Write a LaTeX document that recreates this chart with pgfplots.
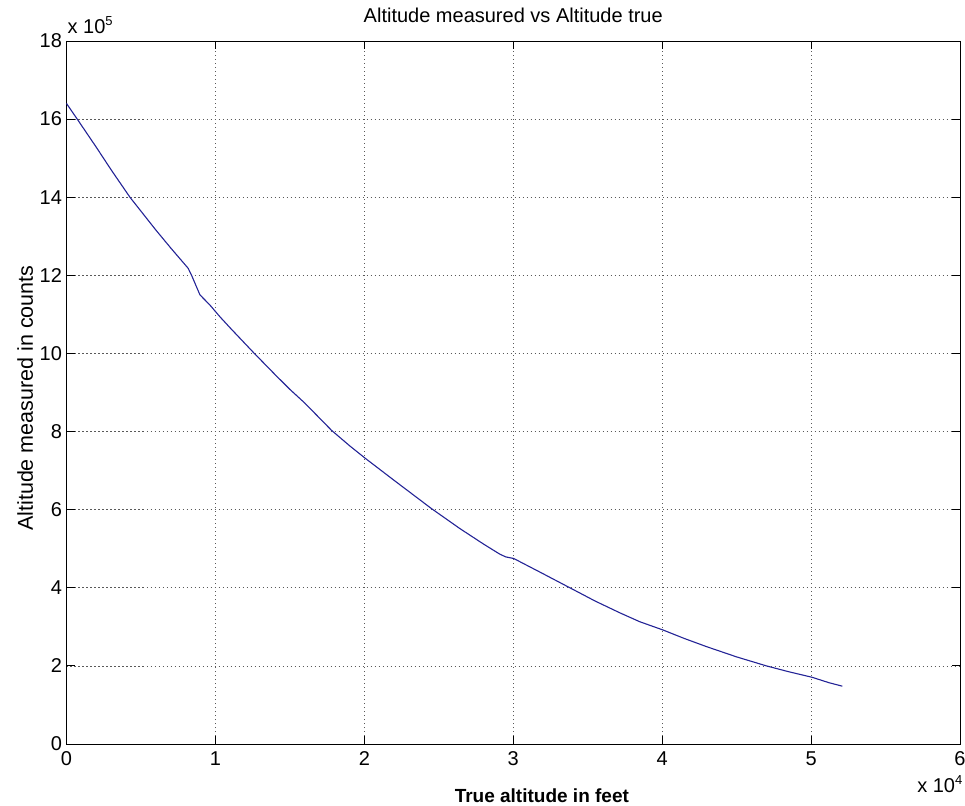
\documentclass[border=0pt]{standalone}
\usepackage{pgfplots}
\pgfplotsset{compat=1.18}
\usepackage{fontspec}
\setmainfont{Liberation Sans}
\usetikzlibrary{calc}

\definecolor{curveblue}{RGB}{35,35,150}

\begin{document}
\begin{tikzpicture}
\begin{axis}[
  scale only axis,
  width=893.5pt, height=703pt,
  xmin=0, xmax=6, ymin=0, ymax=18,
  xtick={0,1,2,3,4,5,6},
  ytick={0,2,4,6,8,10,12,14,16,18},
  /pgf/number format/assume math mode=true,
  tick label style={font=\fontsize{20}{24}\selectfont},
  xticklabel style={yshift=-4pt},
  yticklabel style={xshift=-1pt},
  tick align=inside,
  major tick length=8pt,
  tick style={black, line width=0.8pt},
  axis line style={black, line width=0.9pt},
  grid=major,
  major grid style={black!65, line width=0.7pt, dash pattern=on 1.2pt off 2.8pt},
  clip=false,
]
\addplot[curveblue, line width=1.1pt] coordinates {
  (0.000,16.40) (0.072,16.00) (0.200,15.28) (0.300,14.70) (0.426,14.00)
  (0.600,13.16) (0.700,12.70) (0.817,12.18) (0.840,12.00) (0.896,11.50)
  (0.963,11.24) (1.030,10.94) (1.100,10.65) (1.254,10.03) (1.400,9.46)
  (1.500,9.08) (1.600,8.73) (1.780,8.03) (1.900,7.64) (2.008,7.31)
  (2.200,6.75) (2.450,6.03) (2.640,5.52) (2.800,5.12) (2.910,4.86)
  (2.950,4.79) (3.003,4.75) (3.200,4.36) (3.380,4.00) (3.550,3.66)
  (3.715,3.36) (3.850,3.13) (4.005,2.92) (4.150,2.70) (4.300,2.49)
  (4.500,2.23) (4.700,2.00) (4.850,1.85) (5.005,1.71) (5.120,1.57)
  (5.210,1.48)
};
\node[anchor=base, font=\fontsize{20}{24}\selectfont]
  at (rel axis cs:0.5,1.027) {Altitude measured vs Altitude true};
\node[anchor=base, font=\fontsize{19}{23}\selectfont\bfseries]
  at (rel axis cs:0.532,-0.0825) {True altitude in feet};
\node[anchor=base, rotate=90, font=\fontsize{21.5}{25}\selectfont]
  at (rel axis cs:-0.0375,0.492) {Altitude measured in counts};
\node[anchor=base west, inner sep=0pt, font=\fontsize{20}{24}\selectfont]
  at (rel axis cs:0.001,1.011) {x 10\raisebox{8pt}{\fontsize{13}{15}\selectfont 5}};
\node[anchor=base west, inner sep=0pt, font=\fontsize{20}{24}\selectfont]
  at (rel axis cs:0.952,-0.069) {x 10\raisebox{8pt}{\fontsize{13}{15}\selectfont 4}};
\end{axis}
\pgfresetboundingbox
\useasboundingbox ($(current axis.south west)+(-66.5pt,-61pt)$) rectangle ($(current axis.north east)+(5pt,41pt)$);
\end{tikzpicture}
\end{document}
